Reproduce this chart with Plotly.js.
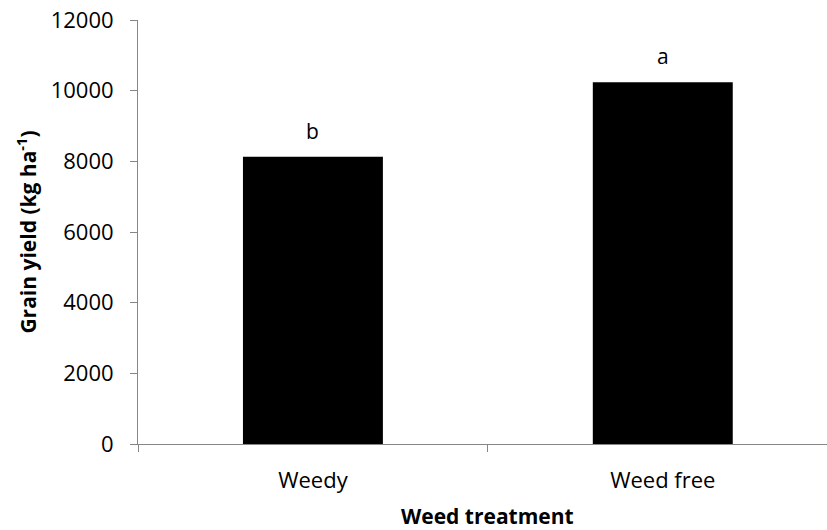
<!DOCTYPE html>
<html>
<head>
<meta charset="utf-8">
<script src="https://cdn.plot.ly/plotly-3.0.1.min.js"></script>
<style>html,body{margin:0;padding:0;background:#fff;}#chart{width:827px;height:530px;}</style>
</head>
<body>
<div id="chart"></div>
<script>
var categories = ["Weedy", "Weed free"];
var grainYield = [8130, 10240];
var letters = ["b", "a"];
var yTicks = [0, 2000, 4000, 6000, 8000, 10000, 12000];
var xTitle = "Weed treatment";
var yTitle = "Grain yield (kg ha<sup>-1</sup>)";

var font = "'Open Sans', Lato, sans-serif";

var trace = {
  type: "bar",
  x: categories,
  y: grainYield,
  width: 0.4,
  marker: {color: "#000000", line: {width: 0}},
  hoverinfo: "x+y"
};

var annotations = categories.map(function (c, i) {
  return {
    x: c, y: grainYield[i], xref: "x", yref: "y",
    text: letters[i], showarrow: false,
    yanchor: "bottom", yshift: 10,
    font: {family: font, size: 21, color: "#000"}
  };
});
// x-axis title centred on the full (partly clipped) category span
annotations.push({
  x: 0.5, xref: "x", y: 0, yref: "paper",
  text: "<b>" + xTitle + "</b>", showarrow: false,
  xanchor: "center", yanchor: "top", yshift: -57, borderpad: 0,
  font: {family: font, size: 21, color: "#000"}
});

var layout = {
  width: 827, height: 530,
  margin: {l: 138, r: 0, t: 20, b: 86, pad: 0},
  paper_bgcolor: "#fff", plot_bgcolor: "#fff",
  showlegend: false,
  font: {family: font, size: 22, color: "#000"},
  xaxis: {
    type: "category",
    range: [-0.5, 1.4694],
    tickson: "boundaries",
    ticks: "outside", ticklen: 7, tickcolor: "#868686", tickwidth: 1,
    showline: true, linecolor: "#868686", linewidth: 1,
    showgrid: false, zeroline: false,
    ticklabelstandoff: 17,
    tickfont: {family: font, size: 22, color: "#000"}
  },
  yaxis: {
    range: [0, 12000],
    tickmode: "array", tickvals: yTicks, ticktext: yTicks.map(String),
    ticks: "outside", ticklen: 7, tickcolor: "#868686", tickwidth: 1,
    showline: true, linecolor: "#868686", linewidth: 1,
    showgrid: false, zeroline: false,
    ticklabelstandoff: 12,
    tickfont: {family: font, size: 22, color: "#000"},
    title: {text: "<b>" + yTitle + "</b>", standoff: 8, font: {family: font, size: 21, color: "#000"}}
  },
  annotations: annotations
};

Plotly.newPlot("chart", [trace], layout, {displayModeBar: false});
</script>
</body>
</html>
